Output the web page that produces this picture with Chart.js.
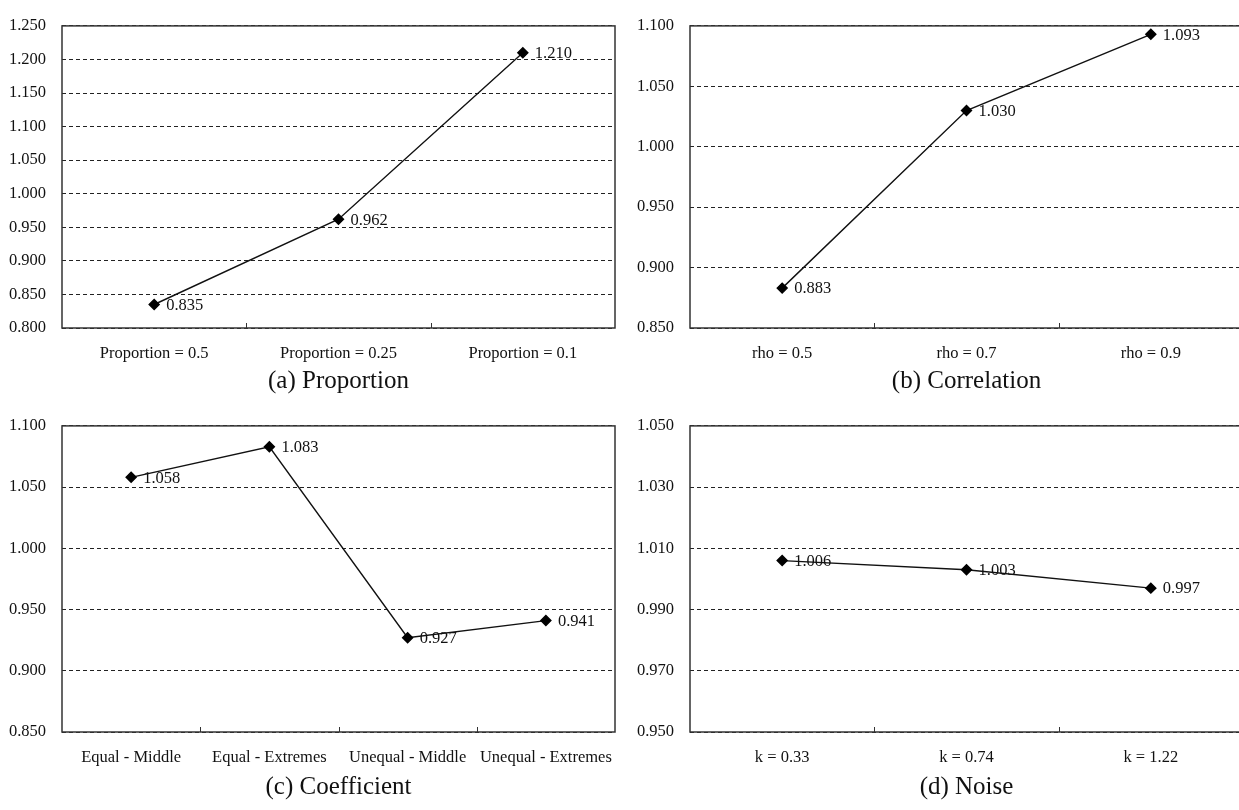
<!DOCTYPE html>
<html lang="en">
<head>
    <meta charset="UTF-8">
    <title>Sensitivity panels</title>
    <script src="https://cdn.jsdelivr.net/npm/chart.js"></script>
    <style>
        body {
            margin: 0;
            padding: 0;
            background: #ffffff;
            overflow: hidden;
            width: 1239px;
            height: 810px;
            position: relative;
        }
        .panel {
            position: absolute;
        }
    </style>
</head>
<body>
    <div class="panel" style="left:0;top:0;width:620px;height:400px;"><canvas id="chartA" width="620" height="400"></canvas></div>
    <div class="panel" style="left:620px;top:0;width:625px;height:400px;"><canvas id="chartB" width="625" height="400"></canvas></div>
    <div class="panel" style="left:0;top:400px;width:620px;height:410px;"><canvas id="chartC" width="620" height="410"></canvas></div>
    <div class="panel" style="left:620px;top:400px;width:625px;height:410px;"><canvas id="chartD" width="625" height="410"></canvas></div>

    <script>
        // data
        const proportionLabels = ['Proportion = 0.5', 'Proportion = 0.25', 'Proportion = 0.1'];
        const proportionValues = [0.835, 0.962, 1.210];

        const correlationLabels = ['rho = 0.5', 'rho = 0.7', 'rho = 0.9'];
        const correlationValues = [0.883, 1.030, 1.093];

        const coefficientLabels = ['Equal - Middle', 'Equal - Extremes', 'Unequal - Middle', 'Unequal - Extremes'];
        const coefficientValues = [1.058, 1.083, 0.927, 0.941];

        const noiseLabels = ['k = 0.33', 'k = 0.74', 'k = 1.22'];
        const noiseValues = [1.006, 1.003, 0.997];

        const panelTitles = ['(a) Proportion', '(b) Correlation', '(c) Coefficient', '(d) Noise'];

        const serif = "'Liberation Serif', 'Times New Roman', serif";
        Chart.defaults.font.family = serif;
        Chart.defaults.color = '#111';

        // value labels to the right of each marker
        const pointLabels = {
            id: 'pointLabels',
            afterDatasetsDraw(chart) {
                const ctx = chart.ctx;
                const meta = chart.getDatasetMeta(0);
                const vals = chart.data.datasets[0].data;
                ctx.save();
                ctx.font = '16.5px ' + serif;
                ctx.fillStyle = '#111';
                ctx.textAlign = 'left';
                ctx.textBaseline = 'middle';
                meta.data.forEach((pt, i) => {
                    ctx.fillText(vals[i].toFixed(3), pt.x + 12, pt.y + 1);
                });
                ctx.restore();
            }
        };

        // box around plot + small ticks between categories
        const plotFrame = {
            id: 'plotFrame',
            afterDraw(chart) {
                const ctx = chart.ctx;
                const a = chart.chartArea;
                const xs = chart.scales.x;
                ctx.save();
                ctx.strokeStyle = '#333';
                ctx.lineWidth = 1.5;
                ctx.strokeRect(a.left, a.top, a.right - a.left, a.bottom - a.top);
                ctx.lineWidth = 1;
                ctx.beginPath();
                for (let i = 0; i < xs.ticks.length - 1; i++) {
                    const bx = Math.round((xs.getPixelForTick(i) + xs.getPixelForTick(i + 1)) / 2) + 0.5;
                    ctx.moveTo(bx, a.bottom);
                    ctx.lineTo(bx, a.bottom - 5);
                }
                ctx.stroke();
                ctx.restore();
            }
        };

        function makeChart(id, labels, values, yMin, yMax, step, title, box) {
            const ctx = document.getElementById(id).getContext('2d');
            return new Chart(ctx, {
                type: 'line',
                data: {
                    labels: labels,
                    datasets: [{
                        data: values,
                        borderColor: '#111',
                        borderWidth: 1.4,
                        tension: 0,
                        fill: false,
                        pointStyle: 'rectRot',
                        pointRadius: 5,
                        pointBackgroundColor: '#000',
                        pointBorderColor: '#000',
                        clip: false
                    }]
                },
                options: {
                    responsive: false,
                    animation: false,
                    layout: {
                        autoPadding: false,
                        padding: { top: box.top, right: box.right, bottom: 0, left: 0 }
                    },
                    plugins: {
                        legend: { display: false },
                        tooltip: { enabled: false }
                    },
                    scales: {
                        x: {
                            offset: true,
                            // invisible tick marks only push the labels down
                            grid: {
                                display: true,
                                drawOnChartArea: false,
                                drawTicks: true,
                                tickLength: box.xPad,
                                color: 'rgba(0,0,0,0)',
                                tickColor: 'rgba(0,0,0,0)'
                            },
                            border: { display: false },
                            ticks: {
                                padding: 0,
                                color: '#111',
                                font: { size: 16.5, family: serif },
                                maxRotation: 0,
                                autoSkip: false
                            },
                            title: {
                                display: true,
                                text: title,
                                color: '#111',
                                font: { size: 25, family: serif },
                                padding: { top: 0, bottom: box.titlePad }
                            },
                            afterFit(scale) { scale.height = box.xHeight; }
                        },
                        y: {
                            min: yMin,
                            max: yMax,
                            grid: {
                                color: '#222',
                                lineWidth: 1,
                                drawTicks: false
                            },
                            border: { display: false, dash: [4, 3] },
                            ticks: {
                                stepSize: step,
                                padding: 16,
                                color: '#111',
                                font: { size: 16.5, family: serif },
                                callback: v => v.toFixed(3)
                            },
                            afterFit(scale) { scale.width = box.yWidth; }
                        }
                    }
                },
                plugins: [pointLabels, plotFrame]
            });
        }

        makeChart('chartA', proportionLabels, proportionValues, 0.8, 1.25, 0.05, panelTitles[0],
            { top: 15, right: 5, yWidth: 62, xHeight: 72, xPad: 16, titlePad: 4 });
        makeChart('chartB', correlationLabels, correlationValues, 0.85, 1.1, 0.05, panelTitles[1],
            { top: 17, right: 2, yWidth: 70, xHeight: 72, xPad: 16, titlePad: 4 });
        makeChart('chartC', coefficientLabels, coefficientValues, 0.85, 1.1, 0.05, panelTitles[2],
            { top: 19, right: 5, yWidth: 62, xHeight: 78, xPad: 16, titlePad: 8 });
        makeChart('chartD', noiseLabels, noiseValues, 0.95, 1.05, 0.02, panelTitles[3],
            { top: 19, right: 2, yWidth: 70, xHeight: 78, xPad: 16, titlePad: 8 });
    </script>
</body>
</html>
